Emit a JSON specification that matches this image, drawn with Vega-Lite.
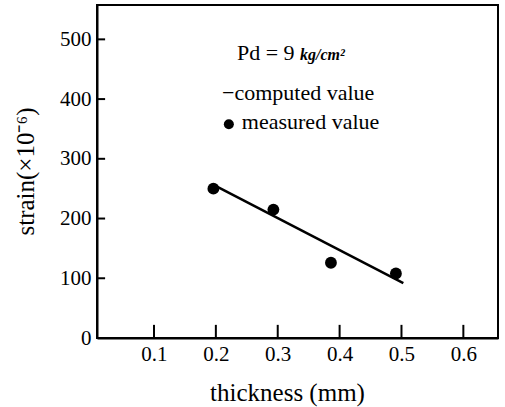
{
  "$schema": "https://vega.github.io/schema/vega-lite/v6.json",
  "width": 401,
  "height": 333,
  "autosize": "none",
  "padding": {"left": 97, "top": 5, "right": 7, "bottom": 69},
  "background": "white",
  "config": {
    "view": {"stroke": "black", "strokeWidth": 2},
    "axis": {
      "grid": false,
      "ticks": false,
      "domainColor": "black",
      "domainWidth": 2,
      "labelColor": "black",
      "labelFont": "Liberation Serif",
      "labelFontSize": 21,
      "titleFont": "Liberation Serif",
      "titleFontWeight": "normal",
      "titleColor": "black",
      "titleFontSize": 25
    }
  },
  "datasets": {
    "measured": [
      {"thickness": 0.196, "strain": 250},
      {"thickness": 0.293, "strain": 215},
      {"thickness": 0.386, "strain": 126},
      {"thickness": 0.491, "strain": 108}
    ],
    "computed": [
      {"thickness": 0.201, "strain": 254},
      {"thickness": 0.503, "strain": 92}
    ],
    "xticks": [
      {"thickness": 0.1, "lo": 0, "hi": 22},
      {"thickness": 0.2, "lo": 0, "hi": 22},
      {"thickness": 0.3, "lo": 0, "hi": 22},
      {"thickness": 0.4, "lo": 0, "hi": 22},
      {"thickness": 0.5, "lo": 0, "hi": 22},
      {"thickness": 0.6, "lo": 0, "hi": 22}
    ],
    "yticks": [
      {"strain": 100, "lo": 0.0079, "hi": 0.021},
      {"strain": 200, "lo": 0.0079, "hi": 0.021},
      {"strain": 300, "lo": 0.0079, "hi": 0.021},
      {"strain": 400, "lo": 0.0079, "hi": 0.021},
      {"strain": 500, "lo": 0.0079, "hi": 0.021}
    ]
  },
  "layer": [
    {
      "data": {"name": "computed"},
      "mark": {"type": "line", "color": "black", "strokeWidth": 2.5},
      "encoding": {
        "x": {
          "field": "thickness", "type": "quantitative",
          "scale": {"domain": [0.0079, 0.656], "nice": false, "zero": false},
          "axis": {
            "title": "thickness (mm)",
            "values": [0.1, 0.2, 0.3, 0.4, 0.5, 0.6],
            "format": ".1f",
            "labelPadding": 5,
            "titleY": 54,
            "titleBaseline": "middle",
            "titleX": 190
          }
        },
        "y": {
          "field": "strain", "type": "quantitative",
          "scale": {"domain": [0, 557.5], "nice": false},
          "axis": {
            "title": "strain(×10⁻⁶)",
            "values": [0, 100, 200, 300, 400, 500],
            "format": "d",
            "labelPadding": 6,
            "titleX": -72,
            "titleY": 166,
            "titleAngle": -90,
            "titleBaseline": "middle"
          }
        }
      }
    },
    {
      "data": {"name": "xticks"},
      "mark": {"type": "rule", "color": "black", "strokeWidth": 2},
      "encoding": {
        "x": {"field": "thickness", "type": "quantitative"},
        "y": {"field": "lo", "type": "quantitative"},
        "y2": {"field": "hi"}
      }
    },
    {
      "data": {"name": "yticks"},
      "mark": {"type": "rule", "color": "black", "strokeWidth": 2},
      "encoding": {
        "y": {"field": "strain", "type": "quantitative"},
        "x": {"field": "lo", "type": "quantitative"},
        "x2": {"field": "hi"}
      }
    },
    {
      "data": {"name": "measured"},
      "mark": {"type": "point", "filled": true, "color": "black", "size": 140, "opacity": 1},
      "encoding": {
        "x": {"field": "thickness", "type": "quantitative"},
        "y": {"field": "strain", "type": "quantitative"}
      }
    },
    {
      "data": {"values": [{"thickness": 0.221, "strain": 358}]},
      "mark": {"type": "point", "filled": true, "color": "black", "size": 100, "opacity": 1},
      "encoding": {
        "x": {"field": "thickness", "type": "quantitative"},
        "y": {"field": "strain", "type": "quantitative"}
      }
    },
    {
      "data": {"values": [
        {"thickness": 0.21, "strain": 398, "label": "−computed value"},
        {"thickness": 0.242, "strain": 350, "label": "measured value"},
        {"thickness": 0.234, "strain": 465, "label": "Pd = 9"}
      ]},
      "mark": {"type": "text", "font": "Liberation Serif", "fontSize": 22, "align": "left", "baseline": "alphabetic", "color": "black"},
      "encoding": {
        "x": {"field": "thickness", "type": "quantitative"},
        "y": {"field": "strain", "type": "quantitative"},
        "text": {"field": "label"}
      }
    },
    {
      "data": {"values": [
        {"thickness": 0.336, "strain": 465, "label": "kg/cm²"}
      ]},
      "mark": {"type": "text", "font": "Liberation Serif", "fontSize": 16, "fontStyle": "italic", "fontWeight": "bold", "align": "left", "baseline": "alphabetic", "color": "black"},
      "encoding": {
        "x": {"field": "thickness", "type": "quantitative"},
        "y": {"field": "strain", "type": "quantitative"},
        "text": {"field": "label"}
      }
    }
  ]
}
